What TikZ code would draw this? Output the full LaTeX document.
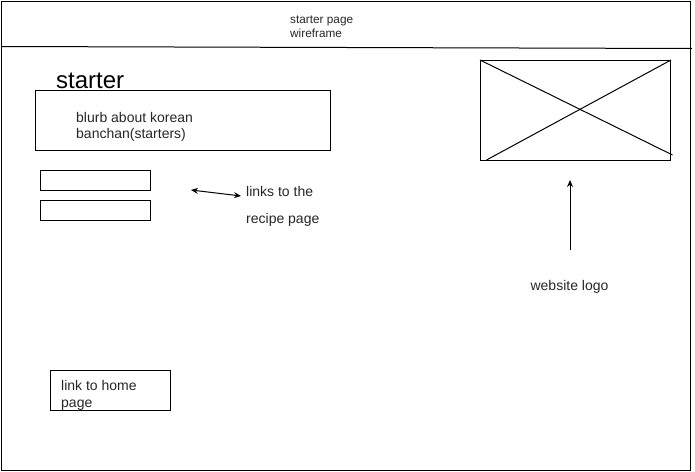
\documentclass[tikz,border=0pt]{standalone}
\usepackage{fontspec}
\setmainfont{Liberation Sans}
\usetikzlibrary{arrows.meta}
\begin{document}
\begin{tikzpicture}[x=1pt,y=-1pt,
  box/.style={draw=black,line width=1pt,anchor=north west,inner sep=0pt},
  label/.style={anchor=west,inner sep=0pt,text=black!85,font=\fontsize{14}{16}\selectfont,align=left},
  conn/.style={line width=1pt},
  tip/.style={-{Stealth[length=7pt,width=6pt]}}]
\useasboundingbox (0,0) rectangle (695,471);
% page frame and header rule
\node[box,minimum width=689pt,minimum height=469pt] (frame) at (0.5,0.5) {};
\coordinate (ruleL) at (2,46.5);
\coordinate (ruleR) at (692,48.5);
\draw[conn] (ruleL) -- (ruleR);
\node[label,font=\fontsize{11.8}{14}\selectfont] (title) at (290,27) {starter page\\wireframe};
% heading and blurb
\node[anchor=west,inner sep=0pt,font=\fontsize{24}{28}\selectfont] (heading) at (56,81) {starter};
\node[box,minimum width=295pt,minimum height=60pt] (blurb) at (35,90) {};
\node[label] (blurbtext) at (76,126.5) {blurb about korean\\banchan(starters)};
% recipe link boxes
\node[box,minimum width=110pt,minimum height=20pt] (linkA) at (40,170) {};
\node[box,minimum width=110pt,minimum height=20pt] (linkB) at (40,200) {};
\coordinate (dblL) at (191,190);
\coordinate (dblR) at (241,196);
\draw[conn,{Stealth[length=7pt,width=6pt]}-{Stealth[length=7pt,width=6pt]}] (dblL) -- (dblR);
\node[label] (linksA) at (246,191) {links to the};
\node[label] (linksB) at (246,219.5) {recipe page};
% logo placeholder
\node[box,minimum width=190pt,minimum height=100pt] (logo) at (480,60) {};
\coordinate (crossA) at (672.5,155);
\coordinate (crossB) at (486.5,160);
\draw[conn] (logo.north west) -- (crossA);
\draw[conn] (crossB) -- (logo.north east);
\coordinate (logoArrowStart) at (570,250);
\coordinate (logoArrowEnd) at (570,180);
\draw[conn,tip] (logoArrowStart) -- (logoArrowEnd);
\node[anchor=center,inner sep=0pt,text=black!85,font=\fontsize{14}{16}\selectfont] (logotext) at (569.5,286.5) {website logo};
% home link
\node[box,minimum width=120pt,minimum height=40pt] (home) at (50,370) {};
\node[label,font=\fontsize{14}{17}\selectfont] (hometext) at (61,395) {link to home\\page};
\end{tikzpicture}
\end{document}
